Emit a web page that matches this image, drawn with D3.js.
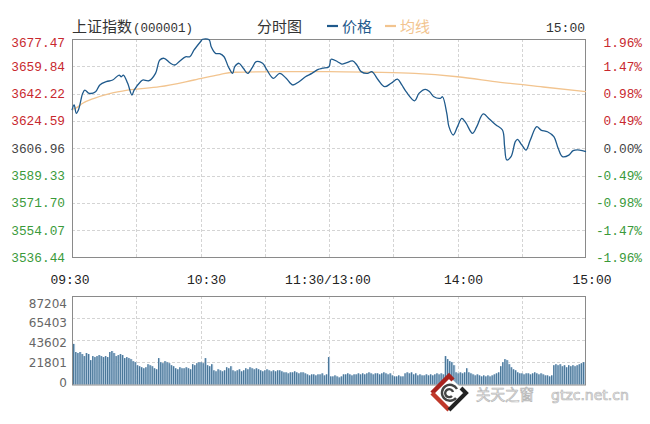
<!DOCTYPE html>
<html><head><meta charset="utf-8">
<script src="https://cdn.jsdelivr.net/npm/d3@7"></script>
<style>
html,body{margin:0;padding:0;background:#fff;}
svg{display:block;}
</style></head>
<body>
<script>
// ---------- data ----------
const title = "上证指数";
const code = "(000001)";
const chartName = "分时图";
const legendNames = ["价格", "均线"];
const timeLabels = ["09:30", "10:30", "11:30/13:00", "14:00", "15:00"];
const timeLabelMinutes = [0, 60, 120, 180, 240];
const priceTicks = ["3677.47","3659.84","3642.22","3624.59","3606.96","3589.33","3571.70","3554.07","3536.44"];
const pctTicks = ["1.96%","1.47%","0.98%","0.49%","0.00%","-0.49%","-0.98%","-1.47%","-1.96%"];
const volTicks = ["87204","65403","43602","21801","0"];
const prevClose = 3606.96;

// price line: minute index and price
const priceMinute = [0,1,2,3,5,6,8,11,13,16,19,22,23,24,26,28,29,32,33,36,39,41,43,46,48,50,53,55,57,60,61,64,65,67,69,71,73,75,76,78,80,82,84,86,89,91,94,97,100,103,106,109,112,115,117,120,121,124,126,128,131,133,135,138,140,143,146,149,152,154,156,160,162,165,167,169,172,173,175,176,178,180,182,184,187,189,192,195,198,201,202,203,205,207,208,210,212,214,217,219,222,225,227,229,232,234,237,240];
const priceValue = [3631.6,3634.9,3629.5,3631.6,3642.4,3644.5,3642.4,3643.4,3647.8,3649.9,3651.0,3654.2,3653.1,3654.2,3648.9,3641.3,3644.5,3649.9,3651.0,3650.6,3655.3,3663.9,3665.0,3661.8,3660.7,3662.8,3666.0,3666.0,3670.4,3675.7,3677.3,3677.0,3672.5,3668.2,3668.0,3666.0,3659.6,3655.3,3659.6,3661.8,3658.6,3655.3,3658.6,3662.8,3661.8,3657.5,3652.1,3655.3,3652.1,3647.8,3649.9,3653.1,3655.3,3657.9,3658.6,3659.6,3664.4,3662.8,3661.3,3662.0,3663.3,3660.7,3656.4,3655.3,3656.4,3651.0,3646.7,3648.9,3651.5,3647.8,3643.5,3637.6,3642.4,3645.0,3643.4,3640.2,3639.2,3640.2,3629.5,3620.9,3615.5,3620.9,3626.3,3623.1,3616.6,3620.9,3629.1,3625.6,3622.0,3618.7,3608.0,3599.4,3601.5,3611.2,3612.7,3609.1,3605.8,3612.3,3620.9,3618.7,3617.6,3614.4,3606.9,3601.5,3602.5,3605.4,3605.8,3604.8];

// average line
const avgMinute = [0,2,5,10,18,26,41,57,69,75,100,120,140,160,180,200,220,240];
const avgValue = [3632.0,3633.0,3636.0,3639.0,3642.4,3644.5,3646.7,3651.0,3654.5,3656.0,3656.4,3656.4,3656.0,3655.3,3653.1,3649.5,3646.5,3643.5];

// volume per minute (thousands), 241 values
const volume = [
 40,32,31,32,30,28,31,30,24,28,
 27,28,29,28,27,28,27,32,33,31,
 28,29,30,29,26,27,26,25,23,22,
 19,18,17,16,17,20,19,18,16,15,
 26,22,21,23,22,21,19,18,16,15,
 17,16,16,17,16,15,20,19,21,22,
 22,21,26,19,18,20,14,13,15,14,
 13,14,17,16,18,14,13,14,15,13,
 14,16,15,17,16,15,16,15,14,13,
 14,15,14,13,14,13,14,14,13,12,
 12,11,12,12,13,12,11,12,12,11,
 10,9,10,10,9,10,10,11,9,10,
 27,8,8,9,8,7,8,10,10,11,
 10,9,10,10,11,10,11,10,11,12,
 11,10,11,11,10,11,12,11,10,11,
 9,8,8,9,8,8,11,12,11,12,
 10,11,9,10,9,9,10,9,10,9,
 10,11,10,11,10,28,25,23,22,19,
 12,11,12,11,12,16,12,11,10,9,
 10,9,8,9,8,9,8,9,10,11,
 12,18,22,25,24,20,17,15,14,12,
 11,11,10,11,11,10,11,12,11,10,
 11,10,9,9,8,9,19,20,19,20,
 18,19,17,19,18,19,18,19,20,21,
 22];

// ---------- layout ----------
const W = 650, H = 424;
const L = 72, R = 586, T = 39, B = 257.5;
const VT = 296, VB = 384.5;
const mono = "'Liberation Mono','DejaVu Sans Mono',monospace";
const cjk = "'Noto Sans CJK SC','Noto Sans',sans-serif";
const red = "#c8282e", green = "#3a9a3a", gray = "#444";

const svg = d3.select("body").append("svg").attr("width", W).attr("height", H);

const x = d3.scaleLinear().domain([0, 240]).range([L, R]);
const y = d3.scaleLinear().domain([3536.44, 3677.47]).range([B, T]);
const yv = d3.scaleLinear().domain([0, 87204]).range([VB, VT]);

// ---------- header ----------
svg.append("text").attr("x", L).attr("y", 32).attr("font-family", cjk).attr("font-size", 15).attr("fill", "#333").text(title);
svg.append("text").attr("x", 133).attr("y", 32).attr("font-family", mono).attr("font-size", 12.5).attr("fill", "#333").text(code);
svg.append("text").attr("x", 257).attr("y", 32).attr("font-family", cjk).attr("font-size", 15).attr("fill", "#333").text(chartName);
const legColors = ["#1f5a8c", "#f2c48f"];
const legX = [327, 385];
legendNames.forEach((n, i) => {
  svg.append("line").attr("x1", legX[i]).attr("x2", legX[i] + 11).attr("y1", 26).attr("y2", 26).attr("stroke", legColors[i]).attr("stroke-width", 2.2);
  svg.append("text").attr("x", legX[i] + 15).attr("y", 32).attr("font-family", cjk).attr("font-size", 15).attr("fill", legColors[i]).text(n);
});
svg.append("text").attr("x", R - 1).attr("y", 32).attr("text-anchor", "end").attr("font-family", mono).attr("font-size", 13).attr("fill", "#333").text(timeLabels[timeLabels.length - 1]);

// ---------- price panel grid ----------
const grid = svg.append("g").attr("stroke", "#d4d4d4").attr("stroke-dasharray", "3,2").attr("stroke-width", 1);
const hIdx = d3.range(1, priceTicks.length - 1);
const priceVals = priceTicks.map(Number);
grid.selectAll(".hg").data(priceVals.slice(1, -1)).join("line")
  .attr("x1", L).attr("x2", R).attr("y1", d => Math.round(y(d)) + 0.5).attr("y2", d => Math.round(y(d)) + 0.5);
const vMinutes = d3.range(30, 240, 30);
grid.selectAll(".vg").data(vMinutes).join("line")
  .attr("x1", d => Math.round(x(d)) + 0.5).attr("x2", d => Math.round(x(d)) + 0.5).attr("y1", T).attr("y2", B);
svg.append("rect").attr("x", L + 0.5).attr("y", T + 0.5).attr("width", R - L - 1).attr("height", B - T - 0.5)
  .attr("fill", "none").attr("stroke", "#8a8a8a");

// axis labels
priceTicks.forEach((t, i) => {
  const v = priceVals[i];
  const c = v > prevClose + 0.01 ? red : (v < prevClose - 0.01 ? green : gray);
  const yy = Math.max(y(v), 42) + 4.5;
  svg.append("text").attr("x", 65).attr("y", yy).attr("text-anchor", "end").attr("font-family", mono).attr("font-size", 12.8).attr("fill", c).text(t);
  svg.append("text").attr("x", 642).attr("y", yy).attr("text-anchor", "end").attr("font-family", mono).attr("font-size", 12.8).attr("fill", c).text(pctTicks[i]);
});

// lines
const avgData = avgMinute.map((m, i) => [m, avgValue[i]]);
const priceData = priceMinute.map((m, i) => [m, priceValue[i]]);
svg.append("path").datum(avgData)
  .attr("d", d3.line().x(d => x(d[0])).y(d => y(d[1])).curve(d3.curveMonotoneX))
  .attr("fill", "none").attr("stroke", "#f2c48f").attr("stroke-width", 1.3);
svg.append("path").datum(priceData)
  .attr("d", d3.line().x(d => x(d[0])).y(d => y(d[1])).curve(d3.curveCatmullRom.alpha(0.5)))
  .attr("fill", "none").attr("stroke", "#1f5a8c").attr("stroke-width", 1.3);

// time labels
const tlOffset = [-2, 6, -1, 6, 6];
timeLabels.forEach((t, i) => {
  svg.append("text").attr("x", x(timeLabelMinutes[i]) + tlOffset[i]).attr("y", 284).attr("text-anchor", "middle")
    .attr("font-family", mono).attr("font-size", 13).attr("fill", "#222").text(t);
});

// ---------- volume panel ----------
const vgrid = svg.append("g").attr("stroke", "#d4d4d4").attr("stroke-dasharray", "3,2");
const volVals = volTicks.map(Number);
vgrid.selectAll("line.h").data(volVals.slice(1, -1)).join("line")
  .attr("x1", L).attr("x2", R).attr("y1", d => Math.round(yv(d)) + 0.5).attr("y2", d => Math.round(yv(d)) + 0.5);
vgrid.selectAll("line.v").data(vMinutes).join("line")
  .attr("x1", d => Math.round(x(d)) + 0.5).attr("x2", d => Math.round(x(d)) + 0.5).attr("y1", VT).attr("y2", VB);

const band = d3.scaleBand().domain(d3.range(volume.length)).range([L + 1, R - 1]).padding(0);
const bars = svg.append("g");
bars.selectAll("rect.l").data(volume).join("rect")
  .attr("x", (d, i) => band(i)).attr("width", band.bandwidth())
  .attr("y", d => yv(d * 1000)).attr("height", d => VB - yv(d * 1000))
  .attr("fill", "#b5cde2");
bars.selectAll("rect.d").data(volume).join("rect")
  .attr("x", (d, i) => band(i)).attr("width", 1.2)
  .attr("y", d => yv(d * 1000)).attr("height", d => VB - yv(d * 1000))
  .attr("fill", "#4a7799");
svg.append("rect").attr("x", L + 0.5).attr("y", VT + 0.5).attr("width", R - L - 1).attr("height", VB - VT)
  .attr("fill", "none").attr("stroke", "#8a8a8a");

const volLabelY = d3.scaleLinear().domain([0, volTicks.length - 1]).range([303, 382]);
volTicks.forEach((t, i) => {
  svg.append("text").attr("x", 67).attr("y", volLabelY(i) + 4.5).attr("text-anchor", "end")
    .attr("font-family", "'DejaVu Sans',sans-serif").attr("font-size", 12).attr("fill", "#666").text(t);
});

// ---------- watermark ----------
const wm = svg.append("g");
const cx = 449, cy = 393, r = 17;
wm.append("polygon").attr("points", `${cx},${cy - r} ${cx + r},${cy} ${cx},${cy + r} ${cx - r},${cy}`)
  .attr("fill", "#fff").attr("stroke", "none");
wm.append("path").attr("d", `M${cx - r},${cy} L${cx},${cy - r} L${cx + 4},${cy - r + 4}`).attr("stroke", "#a8231f").attr("stroke-width", 4.5).attr("fill", "none");
wm.append("path").attr("d", `M${cx - r},${cy} L${cx},${cy + r}`).attr("stroke", "#c0392b").attr("stroke-width", 4.5).attr("fill", "none");
wm.append("path").attr("d", `M${cx},${cy + r} L${cx + r},${cy} L${cx + 12},${cy - 5}`).attr("stroke", "#222").attr("stroke-width", 4).attr("fill", "none");
wm.append("path").attr("d", `M${cx + 8},${cy - 4} A8,8 0 1,0 ${cx + 7},${cy + 5} M${cx + 4},${cy - 1} A4,4 0 1,0 ${cx + 3},${cy + 3}`)
  .attr("stroke", "#444").attr("stroke-width", 2.4).attr("fill", "none");
wm.append("text").attr("x", 476).attr("y", 400).attr("font-family", cjk).attr("font-size", 14.5)
  .attr("fill", "#f3f3f3").attr("stroke", "#b8b8b8").attr("stroke-width", 0.7).text("关天之窗");
wm.append("text").attr("x", 551).attr("y", 400).attr("font-family", "'DejaVu Sans',sans-serif").attr("font-size", 14)
  .attr("fill", "#f3f3f3").attr("stroke", "#b8b8b8").attr("stroke-width", 0.7).text("gtzc.net.cn");
</script>
</body></html>
